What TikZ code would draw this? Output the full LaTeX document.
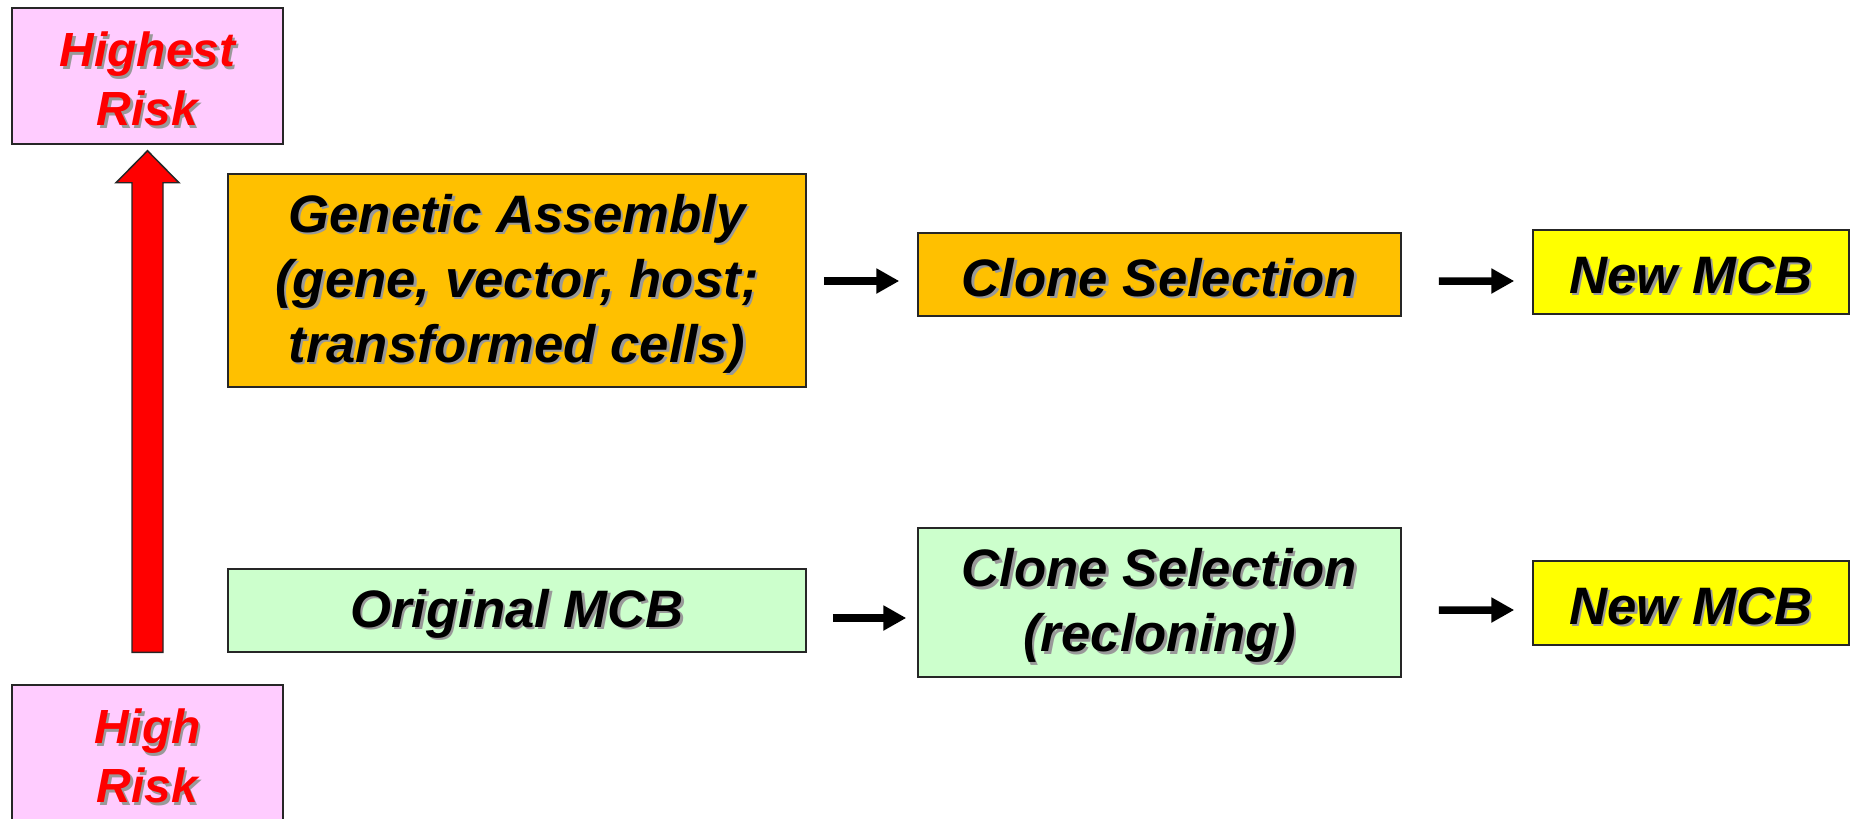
\documentclass[tikz,border=0pt]{standalone}
\usepackage{fontspec}
\setmainfont{Liberation Sans}
\usetikzlibrary{arrows.meta,calc}
\definecolor{pinkbox}{HTML}{FFCCFF}
\definecolor{orangebox}{HTML}{FFC000}
\definecolor{greenbox}{HTML}{CCFFCC}
\definecolor{yellowbox}{HTML}{FFFF00}
\definecolor{riskred}{HTML}{FF0000}
\newcommand\shadowtxt[1]{\leavevmode\raisebox{-2.5pt}[\height][\depth]{\rlap{\hspace{1.4pt}\raisebox{-1.4pt}{\color{black!40}#1}}#1}}
\begin{document}
\begin{tikzpicture}[x=0.02cm,y=-0.02cm,
  box/.style={draw=black!85,line width=0.85pt,inner sep=0pt,align=center,
    font=\fontsize{30}{37}\selectfont\bfseries\itshape},
  riskbox/.style={box,fill=pinkbox,text=riskred,minimum width=271*0.02cm,minimum height=136*0.02cm,
    font=\fontsize{27.3}{33.6}\selectfont\bfseries\itshape},
  blk/.style={line width=4.27pt,-{Triangle[length=13pt,width=13.5pt]}}]
\useasboundingbox (0,0) rectangle (1851,818);
% risk boxes
\node[riskbox] (highest) at (147.5,76) {\shadowtxt{Highest}\\\shadowtxt{Risk}};
\node[riskbox] (high) at (147.5,753) {\shadowtxt{High}\\\shadowtxt{Risk}};
% red block arrow from High to Highest
\coordinate (abot) at ($(high.north)+(0,-32)$);
\coordinate (atip) at ($(highest.south)+(0,6)$);
\draw[fill=riskred,draw=black!85,line width=0.85pt]
  ($(abot)+(-15.5,0)$) -- ($(abot)+(15.5,0)$) -- ($(atip)+(15.5,32)$) -- ($(atip)+(31.5,32)$)
  -- (atip) -- ($(atip)+(-31.5,32)$) -- ($(atip)+(-15.5,32)$) -- cycle;
% top row
\node[box,fill=orangebox,minimum width=578*0.02cm,minimum height=213*0.02cm] (gen) at (517,280.5)
  {\shadowtxt{Genetic Assembly}\\\shadowtxt{(gene, vector, host;}\\\shadowtxt{transformed cells)}};
\node[box,fill=orangebox,minimum width=483*0.02cm,minimum height=83*0.02cm] (c1) at (1159.5,274.5)
  {\shadowtxt{Clone Selection}};
\node[box,fill=yellowbox,minimum width=316*0.02cm,minimum height=84*0.02cm] (n1) at (1691,272)
  {\shadowtxt{New MCB}};
% bottom row
\node[box,fill=greenbox,minimum width=578*0.02cm,minimum height=83*0.02cm] (orig) at (517,610.5)
  {\shadowtxt{Original MCB}};
\node[box,fill=greenbox,minimum width=483*0.02cm,minimum height=149*0.02cm] (c2) at (1159.5,602.5)
  {\shadowtxt{Clone Selection}\\\shadowtxt{(recloning)}};
\node[box,fill=yellowbox,minimum width=316*0.02cm,minimum height=84*0.02cm] (n2) at (1691,603)
  {\shadowtxt{New MCB}};
% connectors
\draw[blk] ($(gen.east)+(17,0.5)$) -- ($(c1.west)+(-18,6.5)$);
\draw[blk] ($(c1.east)+(37,6.5)$) -- ($(n1.west)+(-18,9)$);
\draw[blk] ($(orig.east)+(26,7.5)$) -- ($(c2.west)+(-11,15.5)$);
\draw[blk] ($(c2.east)+(37,7.5)$) -- ($(n2.west)+(-18,7)$);
\end{tikzpicture}
\end{document}
